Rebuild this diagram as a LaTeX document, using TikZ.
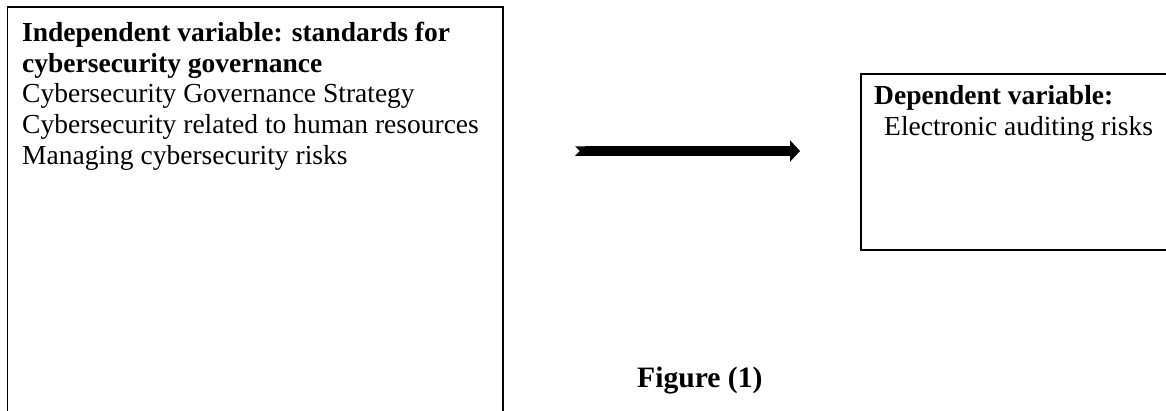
\documentclass[tikz,border=0pt]{standalone}
\usepackage{fontspec}
\setmainfont{Liberation Serif}
\usetikzlibrary{arrows.meta}
\tikzset{
  body/.style={font=\fontsize{27.5}{30}\selectfont, anchor=base west, inner sep=0pt},
  headtxt/.style={font=\fontsize{27.5}{30}\selectfont\bfseries, anchor=base west, inner sep=0pt},
  captxt/.style={font=\fontsize{29.6}{32}\selectfont\bfseries, anchor=base west, inner sep=0pt},
  frame/.style={line width=1.6pt, black},
  bigarrow/.style={line width=9.5pt, {Triangle Cap[reversed]}-{Triangle[length=10pt,width=21pt]}}
}
\begin{document}
\begin{tikzpicture}[x=1pt,y=-1pt]
  \useasboundingbox (0,0) rectangle (1166,410);
  % left box (open at bottom, cut by the page)
  \draw[frame] (7.5,425) -- (7.5,7) -- (503,7) -- (503,425);
  \node[headtxt] (l1) at (22,41.5) {Independent variable: standards for};
  \node[headtxt] (l2) at (22,72) {cybersecurity governance};
  \node[body] (l3) at (22,102.5) {Cybersecurity Governance Strategy};
  \node[body] (l4) at (22,133) {Cybersecurity related to human resources};
  \node[body] (l5) at (22,164) {Managing cybersecurity risks};
  % right box (open at right, cut by the page)
  \draw[frame] (1175,74) -- (861,74) -- (861,250) -- (1175,250);
  \node[headtxt] (r1) at (874,104) {Dependent variable:};
  \node[body] (r2) at (884,135) {Electronic auditing risks};
  % arrow
  \coordinate (as) at (575,151);
  \coordinate (ae) at (800,151);
  \draw[bigarrow] (as) -- (ae);
  % caption
  \node[captxt] (cap) at (637,387) {Figure (1)};
\end{tikzpicture}
\end{document}
